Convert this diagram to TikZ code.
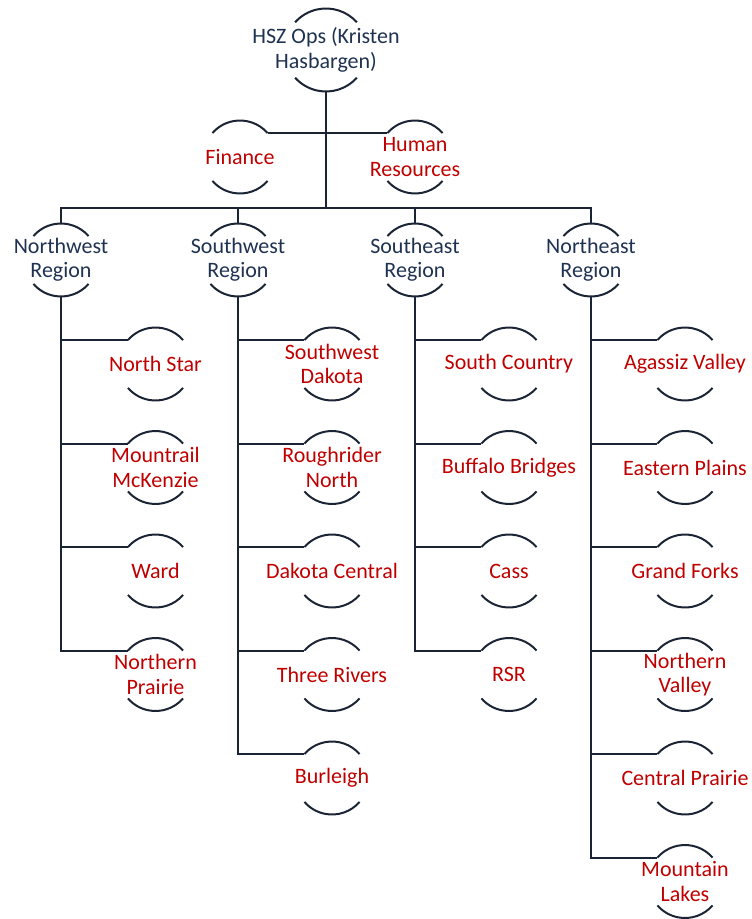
\documentclass[tikz,border=0pt]{standalone}
\usepackage{fontspec}
\setmainfont{Carlito}
\usepackage{xcolor}

\definecolor{navy}{HTML}{1F3251}
\definecolor{wordred}{HTML}{C00000}
\definecolor{linecol}{HTML}{1B2434}

\tikzset{
    bubble/.style={circle, minimum size=36.5pt, inner sep=0pt, outer sep=0pt},
    headtext/.style={text=navy, align=center, font=\fontsize{11}{12.2}\selectfont},
    unittext/.style={text=wordred, align=center, font=\fontsize{11}{12.2}\selectfont},
    link/.style={draw=linecol, line width=1pt}
}

\begin{document}
\begin{tikzpicture}[x=0.5pt, y=0.5pt]
    \useasboundingbox (0,0) rectangle (751,-919);

    % top and staff
    \node[bubble, minimum size=41.5pt, label={[headtext]center:HSZ Ops (Kristen\\Hasbargen)}] (ops) at (326,-50) {};
    \node[bubble, label={[unittext]center:Finance}] (fin) at (240,-157) {};
    \node[bubble, label={[unittext]center:Human\\Resources}] (hr) at (415,-157) {};
    \coordinate (bus) at (326,-208);

    % regions
    \foreach \n/\x/\t in {nw/61/Northwest, sw/238/Southwest, se/415/Southeast, ne/591/Northeast} {
        \node[bubble, label={[headtext]center:\t\\Region}] (\n) at (\x,-260) {};
    }

    % units per region
    \foreach \i/\n/\t in {0/ns/North Star, 1/mm/{Mountrail\\McKenzie}, 2/wa/Ward, 3/np/{Northern\\Prairie}} {
        \node[bubble, label={[unittext]center:\t}] (\n) at ({155.5},{-364-103.5*\i}) {};
    }
    \foreach \i/\n/\t in {0/sd/{Southwest\\Dakota}, 1/rn/{Roughrider\\North}, 2/dc/Dakota Central, 3/tr/Three Rivers, 4/bu/Burleigh} {
        \node[bubble, label={[unittext]center:\t}] (\n) at ({332},{-364-103.5*\i}) {};
    }
    \foreach \i/\n/\t in {0/sc/South Country, 1/bb/Buffalo Bridges, 2/ca/Cass, 3/rsr/RSR} {
        \node[bubble, label={[unittext]center:\t}] (\n) at ({509},{-364-103.5*\i}) {};
    }
    \foreach \i/\n/\t in {0/av/Agassiz Valley, 1/ep/Eastern Plains, 2/gf/Grand Forks, 3/nv/{Northern\\Valley}, 4/cp/Central Prairie, 5/ml/{Mountain\\Lakes}} {
        \node[bubble, label={[unittext]center:\t}] (\n) at ({685},{-364-103.5*\i}) {};
    }

    % connectors
    \draw[link] (ops.south) -- (bus);
    \draw[link] (fin.41) -- (hr.139);
    \foreach \n in {nw,sw,se,ne} {
        \draw[link] (bus) -| (\n.north);
    }
    \foreach \r/\k in {nw/ns, nw/mm, nw/wa, nw/np, sw/sd, sw/rn, sw/dc, sw/tr, sw/bu,
                       se/sc, se/bb, se/ca, se/rsr, ne/av, ne/ep, ne/gf, ne/nv, ne/cp, ne/ml} {
        \draw[link] (\r.south) |- (\k.139);
    }

    % caps above and below each bubble
    \draw[link] (ops.42) arc[start angle=42, end angle=138, radius=20.75pt]
                (ops.-42) arc[start angle=-42, end angle=-138, radius=20.75pt];
    \foreach \n in {fin,hr,nw,sw,se,ne,ns,mm,wa,np,sd,rn,dc,tr,bu,sc,bb,ca,rsr,av,ep,gf,nv,cp,ml} {
        \draw[link] (\n.41) arc[start angle=41, end angle=139, radius=18.25pt]
                    (\n.-41) arc[start angle=-41, end angle=-139, radius=18.25pt];
    }
\end{tikzpicture}
\end{document}
